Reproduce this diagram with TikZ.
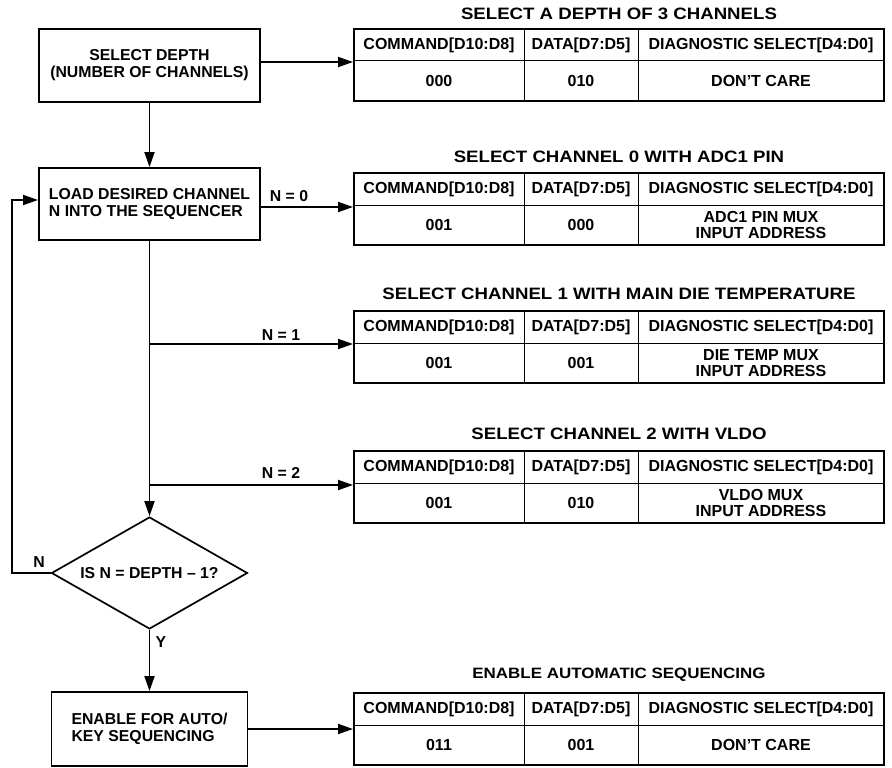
\documentclass[tikz,border=0pt]{standalone}
\usepackage{fontspec}
\setmainfont{Liberation Sans}
\newfontfamily\ttlfont[FakeStretch=1.13]{Liberation Sans}
\usetikzlibrary{arrows.meta,shapes.geometric}

\newcommand\mytbl[5]{%
  \node[tframe] (#1) at (619,{#2+36}) {};
  \coordinate (#1m) at (354,{#2+32});
  \draw[gridln] (#1m) -- (#1m -| #1.east);
  \coordinate (#1a) at (524,#2);
  \coordinate (#1b) at (638,#2);
  \draw[gridln] (#1a) -- (#1a |- #1.south);
  \draw[gridln] (#1b) -- (#1b |- #1.south);
  \node[cell] (#1h1) at (439,{#2+16}) {COMMAND[D10:D8]};
  \node[cell] (#1h2) at (581,{#2+16}) {DATA[D7:D5]};
  \node[cell] (#1h3) at (761,{#2+16}) {DIAGNOSTIC SELECT[D4:D0]};
  \node[cell] (#1d1) at (439,{#2+52}) {#3};
  \node[cell] (#1d2) at (581,{#2+52}) {#4};
  \node[cell] (#1d3) at (761,{#2+52}) {#5};
}

\begin{document}
\begin{tikzpicture}[x=1pt,y=-1pt,
  font=\bfseries\fontsize{15.8}{17}\selectfont,
  box/.style={draw,line width=1.9pt,inner sep=0pt},
  dia/.style={draw,diamond,line width=1.7pt,minimum width=196pt,minimum height=112pt,inner sep=0pt},
  conn/.style={line width=1.8pt},
  arr/.style={conn,-{Triangle[length=15pt,width=10pt]}},
  tframe/.style={draw,line width=1.9pt,minimum width=530pt,minimum height=72pt,inner sep=0pt},
  gridln/.style={line width=1pt},
  cell/.style={inner sep=0pt,align=center,font=\bfseries\fontsize{16}{15.2}\selectfont},
  ttl/.style={inner sep=0pt,font=\ttlfont\bfseries\fontsize{16.5}{18}\selectfont},
  lbl/.style={inner sep=0pt}]

\fill[white] (0,0) rectangle (892,768);
\path[use as bounding box] (0,0) rectangle (892,768);

% boxes
\node[box,minimum width=221pt,minimum height=73pt,align=center] (b1) at (149.5,65.5)
  {SELECT DEPTH\\(NUMBER OF CHANNELS)};
\node[box,minimum width=221pt,minimum height=72pt] (b2) at (149.5,204) {};
\node[inner sep=0pt,align=left] (b2t) at (b2) {LOAD DESIRED CHANNEL\\N INTO THE SEQUENCER};
\node[dia,label={[inner sep=0pt]center:IS N = DEPTH \textendash{} 1?}] (d) at (149.5,573) {};
\node[box,minimum width=196pt,minimum height=74pt] (b5) at (149.5,729) {};
\node[inner sep=0pt,align=left] (b5t) at (b5) {ENABLE FOR AUTO/\\KEY SEQUENCING};

% tables
\node[ttl] (t1t) at (619,14) {SELECT A DEPTH OF 3 CHANNELS};
\mytbl{t1}{29}{000}{010}{DON’T CARE}
\node[ttl] (t2t) at (619,157) {SELECT CHANNEL 0 WITH ADC1 PIN};
\mytbl{t2}{173}{001}{000}{ADC1 PIN MUX\\INPUT ADDRESS}
\node[ttl] (t3t) at (619,294) {SELECT CHANNEL 1 WITH MAIN DIE TEMPERATURE};
\mytbl{t3}{311}{001}{001}{DIE TEMP MUX\\INPUT ADDRESS}
\node[ttl] (t4t) at (619,434) {SELECT CHANNEL 2 WITH VLDO};
\mytbl{t4}{451}{001}{010}{VLDO MUX\\INPUT ADDRESS}
\node[ttl,font=\ttlfont\bfseries\fontsize{15}{17}\selectfont] (t5t) at (619,675) {ENABLE AUTOMATIC SEQUENCING};
\mytbl{t5}{693}{011}{001}{DON’T CARE}

% connectors
\coordinate (b1o) at ([yshift=3.5pt]b1.east);
\draw[arr] (b1o) -- (b1o -| t1.west);
\draw[arr] (b1.south) -- (b2.north);
\coordinate (b2o) at ([yshift=-3pt]b2.east);
\draw[arr] (b2o) -- (b2o -| t2.west);
\draw[arr] (b2.south) -- (d.north);
\coordinate (j1) at (149.5,344);
\coordinate (j2) at (149.5,485);
\draw[arr] (j1) -- (j1 -| t3.west);
\draw[arr] (j2) -- (j2 -| t4.west);
\coordinate (fb) at (12,573);
\coordinate (b2i) at ([yshift=4pt]b2.west);
\draw[arr] (d.west) -- (fb) |- (b2i);
\draw[arr] (d.south) -- (b5.north);
\draw[arr] (b5.east) -- (b5.east -| t5.west);

% labels
\node[lbl] (l0) at (289,196) {N = 0};
\node[lbl] (l1) at (281,335) {N = 1};
\node[lbl] (l2) at (281,473) {N = 2};
\node[lbl] (ln) at (39,562) {N};
\node[lbl] (ly) at (161,642) {Y};
\end{tikzpicture}
\end{document}
